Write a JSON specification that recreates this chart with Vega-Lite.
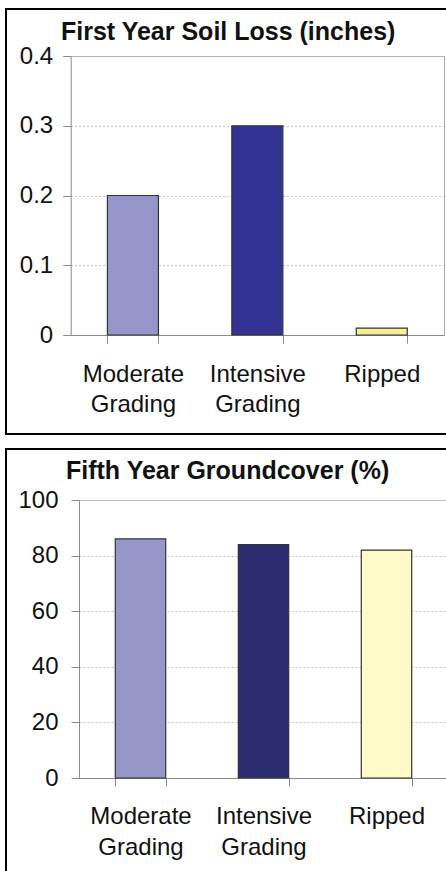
{
  "$schema": "https://vega.github.io/schema/vega-lite/v6.json",
  "padding": {"left": 5, "top": 8, "right": 0, "bottom": 0},
  "background": "white",
  "datasets": {
    "soil": [
      {"category": "Moderate Grading", "value": 0.2},
      {"category": "Intensive Grading", "value": 0.3},
      {"category": "Ripped", "value": 0.01}
    ],
    "cover": [
      {"category": "Moderate Grading", "value": 86},
      {"category": "Intensive Grading", "value": 84},
      {"category": "Ripped", "value": 82}
    ]
  },
  "config": {
    "font": "Liberation Sans",
    "view": {"stroke": "#000000", "strokeWidth": 2},
    "axis": {
      "labelFont": "Liberation Sans",
      "labelColor": "#111111",
      "labelFontSize": 24,
      "domainColor": "#8a8a8a",
      "tickColor": "#8a8a8a",
      "tickSize": 8,
      "tickWidth": 1,
      "title": null
    },
    "title": {
      "font": "Liberation Sans",
      "fontSize": 25,
      "fontWeight": "bold",
      "color": "#111111",
      "anchor": "start",
      "frame": "group",
      "baseline": "alphabetic"
    }
  },
  "spacing": 13,
  "resolve": {"scale": {"color": "independent"}},
  "vconcat": [
    {
      "width": 446,
      "height": 425,
      "title": {"text": "First Year Soil Loss (inches)", "offset": -36, "dx": 55},
      "data": {"name": "soil"},
      "layer": [
        {
          "mark": {"type": "bar", "stroke": "#333333", "strokeWidth": 1.2},
          "encoding": {
            "x": {
              "field": "category", "type": "nominal", "sort": null,
              "scale": {"range": [64.7, 438], "paddingInner": 0.59, "paddingOuter": 0.295},
              "axis": {"orient": "bottom", "offset": -99, "ticks": true, "tickBand": "extent", "labelAngle": 0, "labelPadding": 19, "labelBaseline": "top", "labelLineHeight": 30, "labelExpr": "split(datum.label, ' ')", "grid": false}
            },
            "y": {
              "field": "value", "type": "quantitative",
              "scale": {"domain": [0, 0.4], "range": [326, 47], "nice": false},
              "axis": {"orient": "left", "offset": -64.7, "ticks": true, "values": [0, 0.1, 0.2, 0.3, 0.4], "format": ".1~f", "labelPadding": 10, "grid": true,
                "gridColor": {"condition": {"test": "datum.value >= 0.39", "value": "#a8a8a8"}, "value": "#c4c4c4"},
                "gridDash": {"condition": {"test": "datum.value >= 0.39", "value": [1, 0]}, "value": [2, 2]}}
            },
            "color": {
              "field": "category", "type": "nominal", "sort": null,
              "scale": {"domain": ["Moderate Grading", "Intensive Grading", "Ripped"], "range": ["#9595C9", "#333394", "#F7F09A"]},
              "legend": null
            }
          }
        },
        {
          "mark": {"type": "bar", "opacity": 0},
          "encoding": {
            "x": {"field": "category", "type": "nominal", "sort": null, "axis": null},
            "y": {
              "field": "value", "type": "quantitative",
              "axis": {"orient": "right", "offset": -8, "labels": false, "ticks": false, "grid": false, "domainColor": "#a8a8a8"}
            }
          }
        }
      ],
      "resolve": {"axis": {"y": "independent", "x": "independent"}}
    },
    {
      "width": 446,
      "height": 430,
      "title": {"text": "Fifth Year Groundcover (%)", "offset": -35, "dx": 60},
      "data": {"name": "cover"},
      "layer": [
        {
          "mark": {"type": "bar", "stroke": "#333333", "strokeWidth": 1.2},
          "encoding": {
            "x": {
              "field": "category", "type": "nominal", "sort": null,
              "scale": {"range": [73, 442], "paddingInner": 0.59, "paddingOuter": 0.295},
              "axis": {"orient": "bottom", "offset": -101, "ticks": true, "tickBand": "extent", "labelAngle": 0, "labelPadding": 18, "labelBaseline": "top", "labelLineHeight": 31, "labelExpr": "split(datum.label, ' ')", "grid": false}
            },
            "y": {
              "field": "value", "type": "quantitative",
              "scale": {"domain": [0, 100], "range": [329, 51], "nice": false},
              "axis": {"orient": "left", "offset": -73, "ticks": true, "values": [0, 20, 40, 60, 80, 100], "labelPadding": 13, "grid": true,
                "gridColor": {"condition": {"test": "datum.value >= 99", "value": "#a8a8a8"}, "value": "#c4c4c4"},
                "gridDash": {"condition": {"test": "datum.value >= 99", "value": [1, 0]}, "value": [2, 2]}}
            },
            "color": {
              "field": "category", "type": "nominal", "sort": null,
              "scale": {"domain": ["Moderate Grading", "Intensive Grading", "Ripped"], "range": ["#9696C8", "#2B2B70", "#FFFAC8"]},
              "legend": null
            }
          }
        },
        {
          "mark": {"type": "bar", "opacity": 0},
          "encoding": {
            "x": {"field": "category", "type": "nominal", "sort": null, "axis": null},
            "y": {
              "field": "value", "type": "quantitative",
              "axis": {"orient": "right", "offset": -4, "labels": false, "ticks": false, "grid": false, "domainColor": "#a8a8a8"}
            }
          }
        }
      ],
      "resolve": {"axis": {"y": "independent", "x": "independent"}}
    }
  ]
}
